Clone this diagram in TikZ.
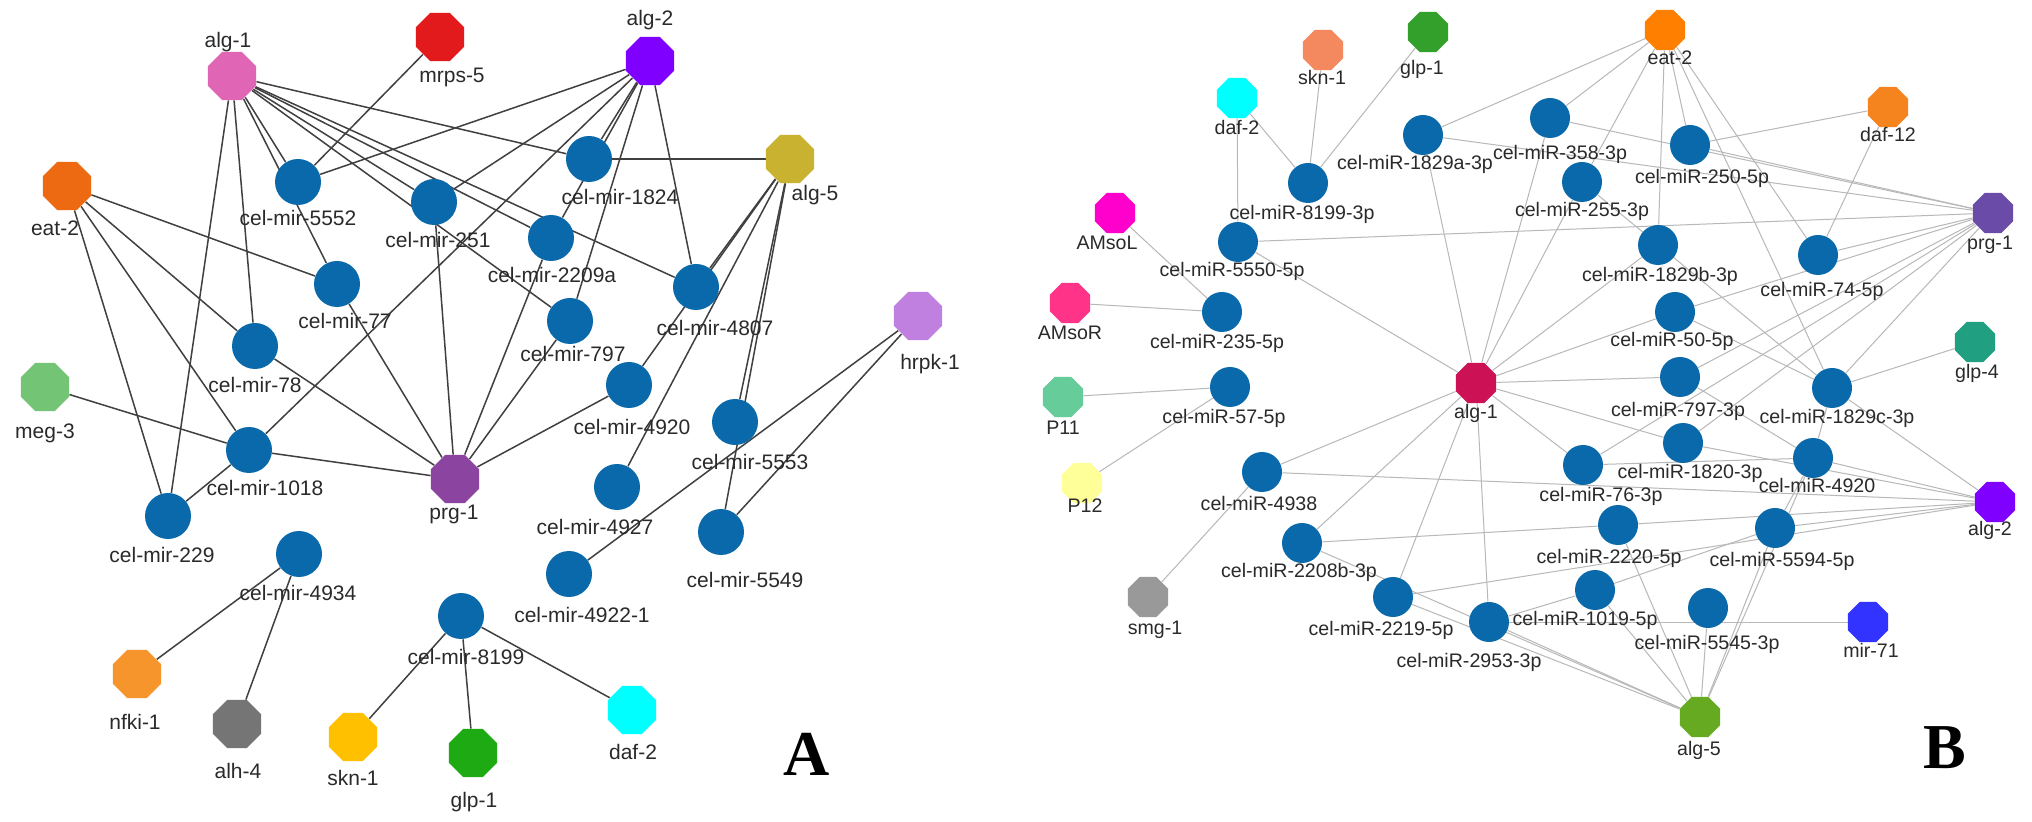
\documentclass[tikz,border=0pt]{standalone}
\usepackage{fontspec}
\setmainfont{Liberation Sans}
\newfontfamily\panelfont{Liberation Serif}
\usetikzlibrary{shapes.geometric,backgrounds}
\definecolor{mir}{HTML}{0A69AA}
\definecolor{labeltext}{HTML}{2A2A2A}
\definecolor{edgeA}{HTML}{404040}
\definecolor{edgeB}{HTML}{B8B8B8}
% panel A colours
\definecolor{cAalgone}{HTML}{E066B5}
\definecolor{cAmrps}{HTML}{E31A1C}
\definecolor{cAalgtwo}{HTML}{7F00FF}
\definecolor{cAeat}{HTML}{EE6A12}
\definecolor{cAalgfive}{HTML}{C9B230}
\definecolor{cAhrpk}{HTML}{C080E0}
\definecolor{cAmeg}{HTML}{74C476}
\definecolor{cAprg}{HTML}{8B44A0}
\definecolor{cAnfki}{HTML}{F7952D}
\definecolor{cAalh}{HTML}{757575}
\definecolor{cAskn}{HTML}{FFC000}
\definecolor{cAglp}{HTML}{1DAA12}
\definecolor{cAdaf}{HTML}{00FFFF}
% panel B colours
\definecolor{cBskn}{HTML}{F4895F}
\definecolor{cBglp}{HTML}{33A02C}
\definecolor{cBdaf}{HTML}{00FFFF}
\definecolor{cBeat}{HTML}{FF8000}
\definecolor{cBdaftw}{HTML}{F5841F}
\definecolor{cBamsol}{HTML}{FF00CC}
\definecolor{cBamsor}{HTML}{FF3388}
\definecolor{cBpone}{HTML}{66CC99}
\definecolor{cBptwo}{HTML}{FFFF99}
\definecolor{cBsmg}{HTML}{999999}
\definecolor{cBprg}{HTML}{6A4CA8}
\definecolor{cBglpfour}{HTML}{20A080}
\definecolor{cBalgtwo}{HTML}{8000FF}
\definecolor{cBalgone}{HTML}{CC1155}
\definecolor{cBmir}{HTML}{3333FF}
\definecolor{cBalgfive}{HTML}{66AA22}
\begin{document}
\begin{tikzpicture}[x=0.5pt,y=-0.5pt,
  octA/.style={regular polygon,regular polygon sides=8,minimum size=26pt,inner sep=0pt,draw=none},
  octB/.style={regular polygon,regular polygon sides=8,minimum size=21.7pt,inner sep=0pt,draw=none},
  mirA/.style={circle,fill=mir,minimum size=23pt,inner sep=0pt},
  mirB/.style={circle,fill=mir,minimum size=20pt,inner sep=0pt},
  lblA/.style={anchor=base,yshift=-3.6pt,font=\fontsize{10.5}{12}\selectfont,text=labeltext,inner sep=0pt},
  lblB/.style={anchor=base,yshift=-3.5pt,font=\fontsize{9.8}{11}\selectfont,text=labeltext,inner sep=0pt},
  eA/.style={draw=edgeA,line width=0.75pt},
  eB/.style={draw=edgeB,line width=0.5pt},
  bigletter/.style={font=\panelfont\bfseries\fontsize{32}{36}\selectfont,anchor=base,inner sep=0pt}
]
\useasboundingbox (0,0) rectangle (2032,822);

% ================= Panel A nodes =================
\node[octA,fill=cAalgone] (aAlg1) at (232,76) {};
\node[octA,fill=cAmrps] (aMrps5) at (440,37) {};
\node[octA,fill=cAalgtwo] (aAlg2) at (650,61) {};
\node[octA,fill=cAeat] (aEat2) at (67,186) {};
\node[octA,fill=cAalgfive] (aAlg5) at (790,159) {};
\node[octA,fill=cAhrpk] (aHrpk1) at (918,316) {};
\node[octA,fill=cAmeg] (aMeg3) at (45,387) {};
\node[octA,fill=cAprg] (aPrg1) at (455,479) {};
\node[octA,fill=cAnfki] (aNfki1) at (137,674) {};
\node[octA,fill=cAalh] (aAlh4) at (237,724) {};
\node[octA,fill=cAskn] (aSkn1) at (353,737) {};
\node[octA,fill=cAglp] (aGlp1) at (473,753) {};
\node[octA,fill=cAdaf] (aDaf2) at (632,710) {};

\node[mirA] (a5552) at (298,182) {};
\node[mirA] (a251) at (434,202) {};
\node[mirA] (a1824) at (589,159) {};
\node[mirA] (a2209a) at (551,238) {};
\node[mirA] (a77) at (337,284) {};
\node[mirA] (a4807) at (696,287) {};
\node[mirA] (a797) at (570,321) {};
\node[mirA] (a78) at (255,346) {};
\node[mirA] (a4920) at (629,385) {};
\node[mirA] (a5553) at (735,422) {};
\node[mirA] (a1018) at (249,450) {};
\node[mirA] (a229) at (168,516) {};
\node[mirA] (a4927) at (617,487) {};
\node[mirA] (a5549) at (721,532) {};
\node[mirA] (a4934) at (299,554) {};
\node[mirA] (a49221) at (569,574) {};
\node[mirA] (a8199) at (461,616) {};

% Panel A labels
\node[lblA] (laAlg1) at (228,40) {alg-1};
\node[lblA] (laMrps5) at (452,75) {mrps-5};
\node[lblA] (laAlg2) at (650,18) {alg-2};
\node[lblA] (laEat2) at (55,228) {eat-2};
\node[lblA] (laAlg5) at (815,193) {alg-5};
\node[lblA] (laHrpk1) at (930,362) {hrpk-1};
\node[lblA] (laMeg3) at (45,431) {meg-3};
\node[lblA] (laPrg1) at (454,512) {prg-1};
\node[lblA] (laNfki1) at (135,722) {nfki-1};
\node[lblA] (laAlh4) at (238,771) {alh-4};
\node[lblA] (laSkn1) at (353,778) {skn-1};
\node[lblA] (laGlp1) at (474,800) {glp-1};
\node[lblA] (laDaf2) at (633,752) {daf-2};
\node[lblA] (la5552) at (298,218) {cel-mir-5552};
\node[lblA] (la251) at (438,240) {cel-mir-251};
\node[lblA] (la1824) at (620,197) {cel-mir-1824};
\node[lblA] (la2209a) at (552,275) {cel-mir-2209a};
\node[lblA] (la77) at (345,321) {cel-mir-77};
\node[lblA] (la4807) at (715,328) {cel-mir-4807};
\node[lblA] (la797) at (573,354) {cel-mir-797};
\node[lblA] (la78) at (255,385) {cel-mir-78};
\node[lblA] (la4920) at (632,427) {cel-mir-4920};
\node[lblA] (la5553) at (750,462) {cel-mir-5553};
\node[lblA] (la1018) at (265,488) {cel-mir-1018};
\node[lblA] (la229) at (162,555) {cel-mir-229};
\node[lblA] (la4927) at (595,527) {cel-mir-4927};
\node[lblA] (la5549) at (745,580) {cel-mir-5549};
\node[lblA] (la4934) at (298,593) {cel-mir-4934};
\node[lblA] (la49221) at (582,615) {cel-mir-4922-1};
\node[lblA] (la8199) at (466,657) {cel-mir-8199};
\node[bigletter] (letterA) at (807,775) {A};

% ================= Panel B nodes =================
\node[octB,fill=cBskn] (bSkn1) at (1323,50) {};
\node[octB,fill=cBglp] (bGlp1) at (1428,32) {};
\node[octB,fill=cBdaf] (bDaf2) at (1237,98) {};
\node[octB,fill=cBeat] (bEat2) at (1665,30) {};
\node[octB,fill=cBdaftw] (bDaf12) at (1888,107) {};
\node[octB,fill=cBprg] (bPrg1) at (1993,213) {};
\node[octB,fill=cBamsol] (bAMsoL) at (1115,213) {};
\node[octB,fill=cBamsor] (bAMsoR) at (1070,303) {};
\node[octB,fill=cBglpfour] (bGlp4) at (1975,342) {};
\node[octB,fill=cBpone] (bP11) at (1063,397) {};
\node[octB,fill=cBalgone] (bAlg1) at (1476,383) {};
\node[octB,fill=cBptwo] (bP12) at (1082,483) {};
\node[octB,fill=cBalgtwo] (bAlg2) at (1995,502) {};
\node[octB,fill=cBsmg] (bSmg1) at (1148,597) {};
\node[octB,fill=cBmir] (bMir71) at (1868,622) {};
\node[octB,fill=cBalgfive] (bAlg5) at (1700,717) {};

\node[mirB] (b1829a) at (1423,135) {};
\node[mirB] (b358) at (1550,118) {};
\node[mirB] (b250) at (1690,145) {};
\node[mirB] (b8199) at (1308,183) {};
\node[mirB] (b255) at (1582,182) {};
\node[mirB] (b5550) at (1238,242) {};
\node[mirB] (b1829b) at (1658,245) {};
\node[mirB] (b74) at (1818,255) {};
\node[mirB] (b235) at (1222,312) {};
\node[mirB] (b50) at (1675,312) {};
\node[mirB] (b57) at (1230,387) {};
\node[mirB] (b797) at (1680,377) {};
\node[mirB] (b1829c) at (1832,388) {};
\node[mirB] (b4938) at (1262,472) {};
\node[mirB] (b1820) at (1683,443) {};
\node[mirB] (b76) at (1583,465) {};
\node[mirB] (b4920) at (1813,458) {};
\node[mirB] (b2208b) at (1302,543) {};
\node[mirB] (b2220) at (1618,525) {};
\node[mirB] (b5594) at (1775,528) {};
\node[mirB] (b2219) at (1393,597) {};
\node[mirB] (b1019) at (1595,590) {};
\node[mirB] (b2953) at (1489,622) {};
\node[mirB] (b5545) at (1708,608) {};

% Panel B labels
\node[lblB] (lbSkn1) at (1322,78) {skn-1};
\node[lblB] (lbGlp1) at (1422,68) {glp-1};
\node[lblB] (lbDaf2) at (1237,128) {daf-2};
\node[lblB] (lbEat2) at (1670,58) {eat-2};
\node[lblB] (lbDaf12) at (1888,135) {daf-12};
\node[lblB] (lbPrg1) at (1990,243) {prg-1};
\node[lblB] (lbAMsoL) at (1107,243) {AMsoL};
\node[lblB] (lbAMsoR) at (1070,333) {AMsoR};
\node[lblB] (lbGlp4) at (1977,372) {glp-4};
\node[lblB] (lbP11) at (1063,428) {P11};
\node[lblB] (lbAlg1) at (1476,412) {alg-1};
\node[lblB] (lbP12) at (1085,506) {P12};
\node[lblB] (lbAlg2) at (1990,529) {alg-2};
\node[lblB] (lbSmg1) at (1155,627) {smg-1};
\node[lblB] (lbMir71) at (1871,650) {mir-71};
\node[lblB] (lbAlg5) at (1699,748) {alg-5};
\node[lblB] (lb1829a) at (1415,163) {cel-miR-1829a-3p};
\node[lblB] (lb358) at (1560,153) {cel-miR-358-3p};
\node[lblB] (lb250) at (1702,177) {cel-miR-250-5p};
\node[lblB] (lb8199) at (1302,213) {cel-miR-8199-3p};
\node[lblB] (lb255) at (1582,210) {cel-miR-255-3p};
\node[lblB] (lb5550) at (1232,270) {cel-miR-5550-5p};
\node[lblB] (lb1829b) at (1660,275) {cel-miR-1829b-3p};
\node[lblB] (lb74) at (1822,290) {cel-miR-74-5p};
\node[lblB] (lb235) at (1217,342) {cel-miR-235-5p};
\node[lblB] (lb50) at (1672,340) {cel-miR-50-5p};
\node[lblB] (lb57) at (1224,417) {cel-miR-57-5p};
\node[lblB] (lb797) at (1678,410) {cel-miR-797-3p};
\node[lblB] (lb1829c) at (1837,417) {cel-miR-1829c-3p};
\node[lblB] (lb4938) at (1259,504) {cel-miR-4938};
\node[lblB] (lb1820) at (1690,472) {cel-miR-1820-3p};
\node[lblB] (lb76) at (1601,495) {cel-miR-76-3p};
\node[lblB] (lb4920) at (1817,486) {cel-miR-4920};
\node[lblB] (lb2208b) at (1299,570) {cel-miR-2208b-3p};
\node[lblB] (lb2220) at (1609,557) {cel-miR-2220-5p};
\node[lblB] (lb5594) at (1782,560) {cel-miR-5594-5p};
\node[lblB] (lb2219) at (1381,628) {cel-miR-2219-5p};
\node[lblB] (lb1019) at (1585,618) {cel-miR-1019-5p};
\node[lblB] (lb2953) at (1469,660) {cel-miR-2953-3p};
\node[lblB] (lb5545) at (1707,642) {cel-miR-5545-3p};
\node[bigletter] (letterB) at (1945,768) {B};

\begin{pgfonlayer}{background}
\fill[white] (0,0) rectangle (2032,822);
% ---- Panel A edges ----
\foreach \t in {a5552,a77,a251,a1824,a2209a,a4807,a797,a78,a229}
  \draw[eA] (aAlg1) -- (\t);
\draw[eA] (aMrps5) -- (a5552);
\foreach \t in {a5552,a251,a1824,a1018,a2209a,a797,a4807}
  \draw[eA] (aAlg2) -- (\t);
\foreach \t in {a77,a78,a1018,a229}
  \draw[eA] (aEat2) -- (\t);
\draw[eA] (a1824) -- (aAlg5);
\foreach \t in {a4807,a4920,a4927,a5553,a5549}
  \draw[eA] (aAlg5) -- (\t);
\draw[eA] (aHrpk1) -- (a49221);
\draw[eA] (aHrpk1) -- (a5549);
\foreach \t in {a1018,a78,a77,a251,a2209a,a797,a4920}
  \draw[eA] (aPrg1) -- (\t);
\draw[eA] (aMeg3) -- (a1018);
\draw[eA] (a229) -- (a1018);
\draw[eA] (a4934) -- (aNfki1);
\draw[eA] (a4934) -- (aAlh4);
\draw[eA] (a8199) -- (aSkn1);
\draw[eA] (a8199) -- (aGlp1);
\draw[eA] (a8199) -- (aDaf2);
% ---- Panel B edges ----
\draw[eB] (bDaf2) -- (b5550);
\draw[eB] (bDaf2) -- (b8199);
\draw[eB] (bSkn1) -- (b8199);
\draw[eB] (bGlp1) -- (b8199);
\draw[eB] (bAMsoL) -- (b235);
\draw[eB] (bAMsoR) -- (b235);
\draw[eB] (bP11) -- (b57);
\draw[eB] (bP12) -- (b57);
\draw[eB] (bSmg1) -- (b4938);
\draw[eB] (b5550) -- (bPrg1);
\draw[eB] (b5550) -- (bAlg1);
\foreach \t in {b1829a,b358,b255,b1829b,b250,b74,b1829c}
  \draw[eB] (bEat2) -- (\t);
\foreach \t in {b1829a,b358,b250,b74,b50,b797,b1829c,b1820,b76}
  \draw[eB] (bPrg1) -- (\t);
\foreach \t in {b1829a,b358,b255,b1829b,b50,b797,b1820,b76,b4938,b2208b,b2219,b2953}
  \draw[eB] (bAlg1) -- (\t);
\draw[eB] (b255) -- (b1829c);
\draw[eB] (bDaf12) -- (b250);
\draw[eB] (bDaf12) -- (b74);
\draw[eB] (b50) -- (b1829c);
\draw[eB] (b797) -- (b4920);
\draw[eB] (b1829c) -- (bGlp4);
\draw[eB] (b1829c) -- (b4920);
\draw[eB] (b5594) -- (b4920);
\draw[eB] (b76) -- (b4920);
\foreach \t in {b1829c,b1820,b4938,b2220,b2219,b5594,b4920}
  \draw[eB] (bAlg2) -- (\t);
\draw[eB] (b2208b) -- (b2220);
\draw[eB] (b2953) -- (b1019);
\draw[eB] (b1019) -- (b5594);
\draw[eB] (b2953) -- (bMir71);
\foreach \t in {b2208b,b2219,b2953,b1019,b2220,b5545,b5594,b4920}
  \draw[eB] (bAlg5) -- (\t);
\end{pgfonlayer}
\end{tikzpicture}
\end{document}
